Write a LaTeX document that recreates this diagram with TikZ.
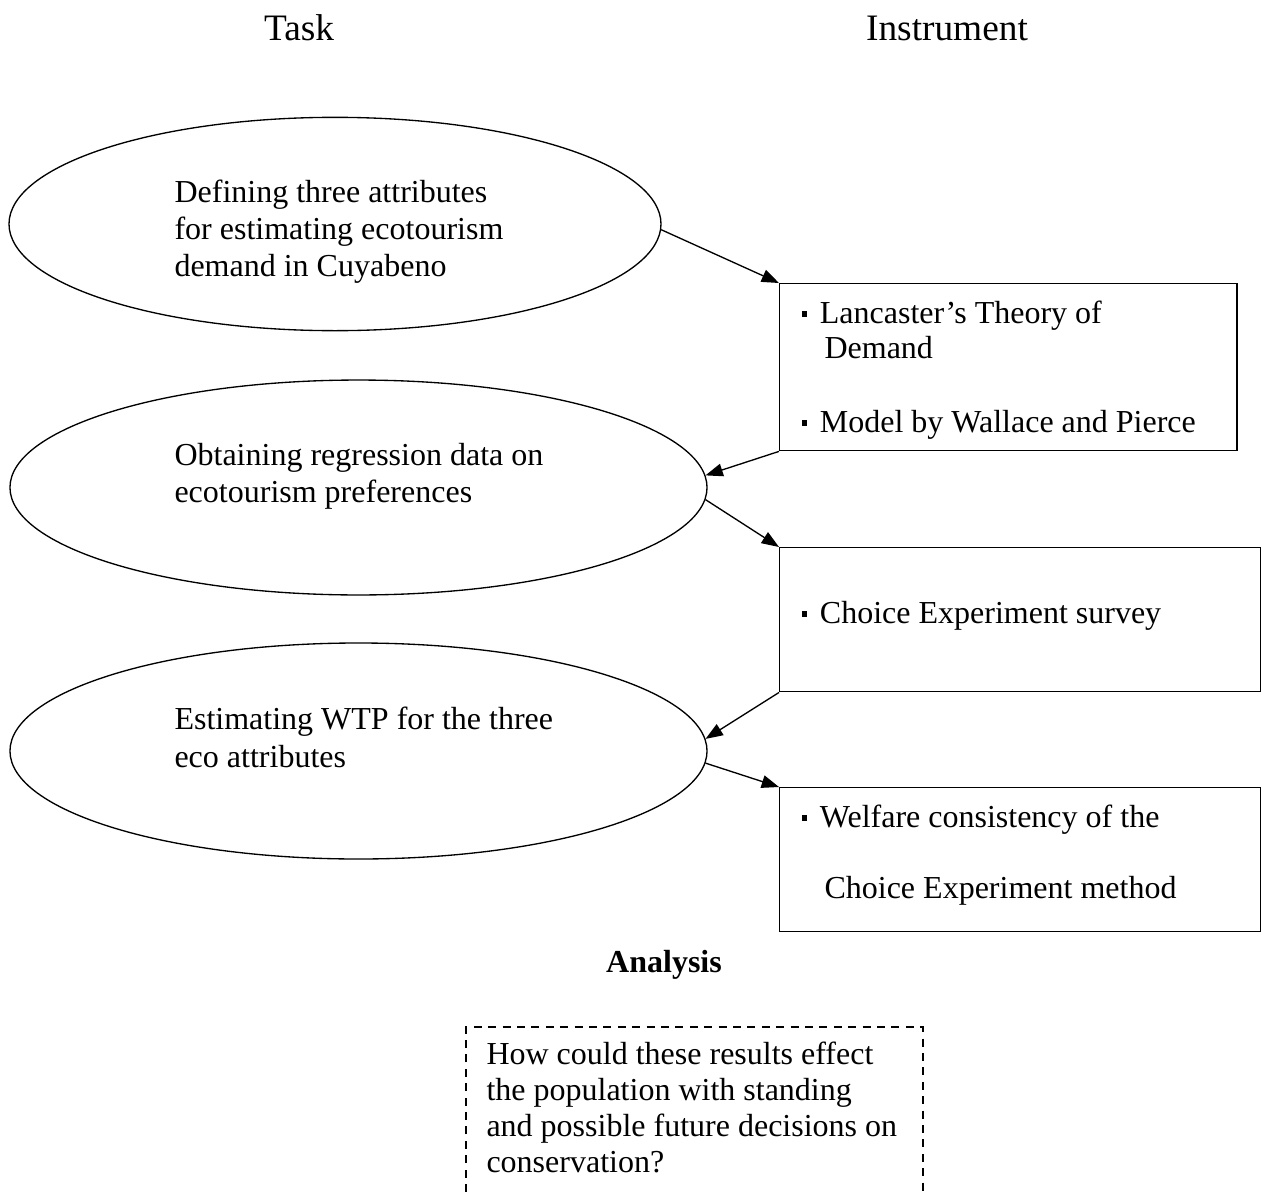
\documentclass[tikz,border=0pt]{standalone}
\usepackage{fontspec}
\setmainfont{Liberation Serif}
\usetikzlibrary{shapes.geometric,arrows.meta}
\newcommand\sqbul{\rule[2.3pt]{2.2pt}{2.2pt}\hspace{4.7pt}}
\begin{document}
\begin{tikzpicture}[x=0.375pt,y=-0.375pt,
  lbl/.style={inner sep=0pt,anchor=base west,font=\fontsize{12}{14}\selectfont},
  head/.style={inner sep=0pt,anchor=base,font=\fontsize{14}{16}\selectfont},
  oval/.style={ellipse,draw,line width=0.5pt,inner sep=0pt},
  ibox/.style={rectangle,draw,line width=0.55pt,inner sep=0pt,anchor=north west},
  arr/.style={line width=0.5pt,-{Triangle[length=6.5pt,width=4.8pt]}}]
\useasboundingbox (0,0) rectangle (1264,1192);
% headings
\node[head] (task) at (299,40) {Task};
\node[head] (instr) at (947,40) {Instrument};
% ellipses
\node[oval,minimum width=244.5pt,minimum height=80pt] (e1) at (335,224) {};
\node[oval,minimum width=261.4pt,minimum height=80.6pt] (e2) at (358.5,487.5) {};
\node[oval,minimum width=261.4pt,minimum height=81pt] (e3) at (358.5,751) {};
\node[lbl] (t11) at (174,202) {Defining three attributes};
\node[lbl] (t12) at (174,239) {for estimating ecotourism};
\node[lbl] (t13) at (174,276) {demand in Cuyabeno};
\node[lbl] (t21) at (174,465) {Obtaining regression data on};
\node[lbl] (t22) at (174,502) {ecotourism preferences};
\node[lbl] (t31) at (174,729) {Estimating WTP for the three};
\node[lbl] (t32) at (174,767) {eco attributes};
% boxes
\node[ibox,minimum width=171.4pt,minimum height=62.6pt] (b1) at (779,283) {};
\node[ibox,minimum width=180.2pt,minimum height=54pt] (b2) at (779,547) {};
\node[ibox,minimum width=180.2pt,minimum height=54pt] (b3) at (779,787) {};
\node[lbl] (s11) at (801,323) {\sqbul Lancaster’s Theory of};
\node[lbl] (s12) at (824,358) {Demand};
\node[lbl] (s13) at (801,432) {\sqbul Model by Wallace and Pierce};
\node[lbl] (s21) at (801,623) {\sqbul Choice Experiment survey};
\node[lbl] (s31) at (801,827) {\sqbul Welfare consistency of the};
\node[lbl] (s32) at (824,898) {Choice Experiment method};
% arrows
\draw[arr] (e1.-1) -- (b1.north west);
\draw[arr] (b1.south west) -- (e2.2);
\draw[arr] (e2.-2) -- (b2.north west);
\draw[arr] (b2.south west) -- (e3.2);
\draw[arr] (e3.-2) -- (b3.north west);
% analysis
\node[inner sep=0pt,anchor=base,font=\fontsize{12}{14}\selectfont\bfseries] (ana) at (664,972) {Analysis};
\coordinate (qbl) at (466,1192);
\coordinate (qtl) at (466,1027);
\coordinate (qtr) at (923,1027);
\coordinate (qbr) at (923,1192);
\draw[line width=0.5pt,dash pattern=on 3pt off 2.4pt] (qbl) -- (qtl) -- (qtr) -- (qbr);
\node[lbl] (q1) at (486,1064) {How could these results effect};
\node[lbl] (q2) at (486,1100) {the population with standing};
\node[lbl] (q3) at (486,1136) {and possible future decisions on};
\node[lbl] (q4) at (486,1172) {conservation?};
\end{tikzpicture}
\end{document}
